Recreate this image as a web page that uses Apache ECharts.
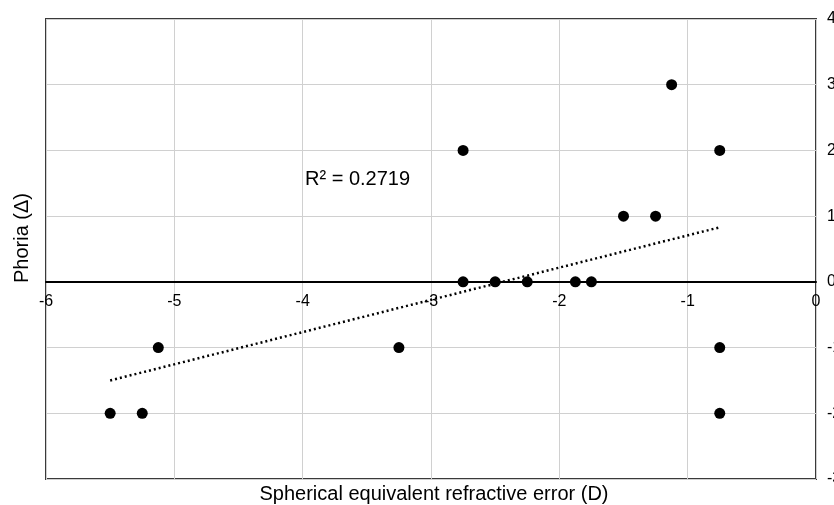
<!DOCTYPE html>
<html>
<head>
<meta charset="utf-8">
<script src="https://cdn.jsdelivr.net/npm/echarts@6/dist/echarts.min.js"></script>
<style>
  html, body { margin: 0; padding: 0; background: #fff; }
  #main { width: 834px; height: 505px; }
</style>
</head>
<body>
<div id="main"></div>
<script>
// data
var refError = [-5.5, -5.25, -5.125, -3.25, -2.75, -2.75, -2.5, -2.25, -1.875, -1.75, -1.5, -1.25, -1.125, -0.75, -0.75, -0.75];
var phoria   = [-2, -2, -1, -1, 2, 0, 0, 0, 0, 0, 1, 1, 3, 2, -1, -2];
// linear trendline end points
var trendX = [-5.5, -0.75];
var trendY = [-1.5, 0.83];
var rSquared = 'R² = 0.2719';

var points = refError.map(function (x, i) { return [x, phoria[i]]; });
var trend = trendX.map(function (x, i) { return [x, trendY[i]]; });

var myChart = echarts.init(document.getElementById('main'));
var fontFam = '"Liberation Sans", Arial, sans-serif';

option = {
    animation: false,
    grid: {
        left: 46,
        right: 18,
        top: 19,
        bottom: 26,
        outerBoundsMode: 'none',
        show: true,
        borderColor: '#3a3a3a',
        borderWidth: 2
    },
    xAxis: {
        type: 'value',
        min: -6,
        max: 0,
        interval: 1,
        position: 'bottom',
        offset: -197,   // put the axis on the y = 0 line
        axisLine: { onZero: false, lineStyle: { color: '#000', width: 2 } },
        axisTick: { show: false },
        axisLabel: { color: '#000', fontSize: 16, fontFamily: fontFam, margin: 12 },
        splitLine: { show: true, lineStyle: { color: '#d0d0d0', width: 1 } }
    },
    yAxis: {
        type: 'value',
        position: 'right',
        min: -3,
        max: 4,
        interval: 1,
        axisLine: { show: false },
        axisTick: { show: false },
        axisLabel: { color: '#000', fontSize: 16, fontFamily: fontFam, margin: 11 },
        splitLine: { show: true, lineStyle: { color: '#d0d0d0', width: 1 } }
    },
    graphic: [
        {
            type: 'text',
            x: 434,
            y: 484,
            style: { text: 'Spherical equivalent refractive error (D)', fontSize: 20, fontFamily: fontFam, fill: '#000', align: 'center', verticalAlign: 'top' }
        },
        {
            type: 'text',
            x: 12,
            y: 238,
            rotation: Math.PI / 2,
            style: { text: 'Phoria (Δ)', fontSize: 20, fontFamily: fontFam, fill: '#000', align: 'center', verticalAlign: 'top' }
        },
        {
            type: 'text',
            left: 305,
            top: 169,
            style: { text: rSquared, fontSize: 20, fontFamily: fontFam, fill: '#000' }
        }
    ],
    series: [
        {
            type: 'line',
            data: trend,
            symbol: 'none',
            lineStyle: { color: '#000', width: 2.5, type: [2, 3] },
            z: 2
        },
        {
            type: 'scatter',
            data: points,
            symbolSize: 11,
            itemStyle: { color: '#000', opacity: 1 },
            z: 3
        }
    ]
};

myChart.setOption(option);
</script>
</body>
</html>
